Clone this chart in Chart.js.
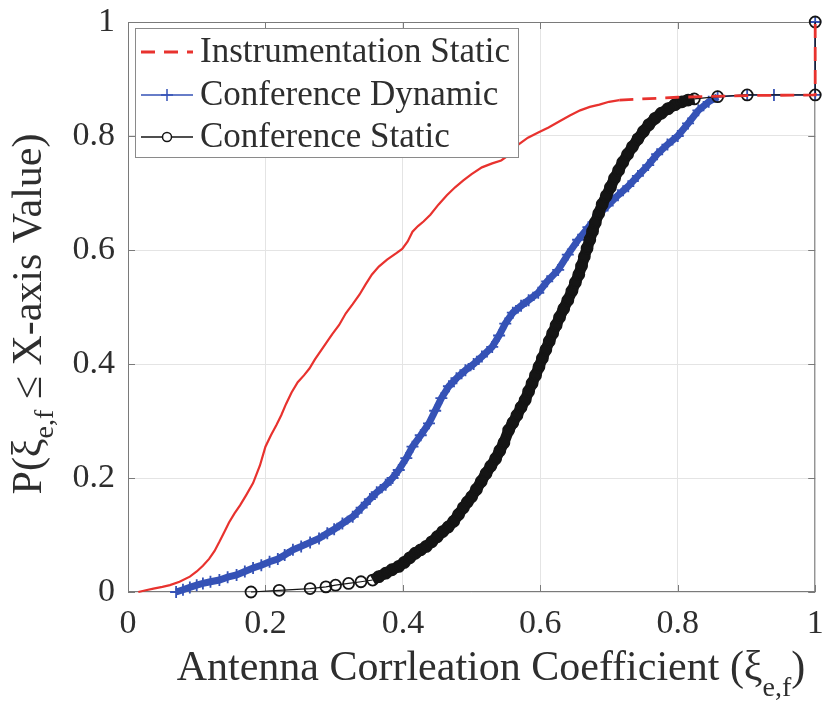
<!DOCTYPE html>
<html>
<head>
<meta charset="utf-8">
<script src="https://cdn.jsdelivr.net/npm/chart.js@4.4.0/dist/chart.umd.min.js"></script>
<style>
html,body{margin:0;padding:0;background:#ffffff;}
#wrap{width:823px;height:702px;position:relative;}
</style>
</head>
<body>
<div id="wrap"><canvas id="c" width="823" height="702"></canvas></div>
<script>
// ---------- data ----------
const seriesNames = ['Instrumentation Static', 'Conference Dynamic', 'Conference Static'];
const xTicks = [0, 0.2, 0.4, 0.6, 0.8, 1];
const yTicks = [0, 0.2, 0.4, 0.6, 0.8, 1];
const xTitleMain = 'Antenna Corrleation Coefficient (ξ';
const xTitleSub = 'e,f';
const xTitleEnd = ')';
const yTitleMain = 'P(ξ';
const yTitleSub = 'e,f';
const yTitleEnd = ' ≤ X-axis Value)';

const instrX = [0.015,0.026,0.037,0.050,0.061,0.075,0.090,0.100,0.109,0.118,0.126,0.133,0.140,0.147,0.155,0.163,0.172,0.182,0.192,0.200,0.208,0.216,0.223,0.230,0.238,0.247,0.256,0.264,0.272,0.280,0.288,0.297,0.307,0.317,0.327,0.337,0.346,0.355,0.365,0.377,0.390,0.399,0.407,0.414,0.422,0.430,0.440,0.452,0.464,0.476,0.488,0.500,0.515,0.530,0.543,0.556,0.568,0.582,0.597,0.612,0.628,0.643,0.658,0.672,0.686,0.700,0.715,0.800,0.900,1.000,1.000];
const instrY = [0.000,0.003,0.006,0.009,0.012,0.018,0.027,0.036,0.046,0.058,0.072,0.088,0.105,0.122,0.138,0.152,0.170,0.191,0.222,0.255,0.275,0.293,0.310,0.330,0.350,0.368,0.380,0.392,0.408,0.422,0.436,0.452,0.468,0.489,0.505,0.522,0.540,0.557,0.571,0.583,0.594,0.602,0.615,0.632,0.642,0.650,0.662,0.680,0.696,0.710,0.722,0.733,0.745,0.752,0.757,0.768,0.785,0.797,0.806,0.815,0.826,0.836,0.845,0.851,0.855,0.860,0.863,0.868,0.871,0.872,1.000];

const dynX = [0.070,0.080,0.090,0.100,0.109,0.120,0.133,0.145,0.158,0.170,0.182,0.194,0.206,0.218,0.228,0.240,0.252,0.265,0.278,0.290,0.300,0.312,0.327,0.340,0.352,0.362,0.375,0.385,0.394,0.405,0.414,0.426,0.438,0.447,0.456,0.467,0.478,0.491,0.503,0.515,0.530,0.540,0.549,0.560,0.572,0.583,0.597,0.610,0.626,0.640,0.655,0.670,0.684,0.698,0.713,0.728,0.742,0.757,0.770,0.785,0.800,0.815,0.830,0.845,0.858,0.901,0.940,1.000,1.000];
const dynY = [0.000,0.004,0.008,0.012,0.015,0.018,0.021,0.026,0.030,0.036,0.042,0.047,0.053,0.058,0.065,0.074,0.080,0.087,0.094,0.103,0.110,0.120,0.132,0.148,0.163,0.175,0.188,0.200,0.214,0.235,0.255,0.275,0.296,0.318,0.340,0.361,0.375,0.389,0.400,0.413,0.430,0.450,0.471,0.490,0.502,0.512,0.525,0.545,0.565,0.592,0.618,0.640,0.661,0.678,0.696,0.712,0.730,0.749,0.768,0.785,0.800,0.822,0.845,0.860,0.869,0.872,0.872,0.872,1.000];

const statX = [0.179,0.220,0.265,0.288,0.302,0.321,0.339,0.356,0.365,0.375,0.384,0.394,0.402,0.410,0.418,0.426,0.434,0.442,0.450,0.458,0.466,0.474,0.481,0.488,0.494,0.500,0.507,0.514,0.521,0.528,0.535,0.541,0.547,0.554,0.560,0.566,0.572,0.578,0.583,0.588,0.593,0.598,0.603,0.608,0.613,0.618,0.623,0.628,0.634,0.640,0.646,0.651,0.656,0.660,0.664,0.668,0.672,0.676,0.680,0.685,0.690,0.696,0.702,0.708,0.714,0.720,0.727,0.734,0.742,0.750,0.758,0.767,0.776,0.786,0.796,0.806,0.815,0.824,0.858,0.901,1.000,1.000];
const statY = [0.000,0.003,0.006,0.009,0.012,0.015,0.018,0.021,0.027,0.033,0.039,0.045,0.052,0.060,0.068,0.074,0.080,0.088,0.097,0.106,0.114,0.124,0.136,0.148,0.158,0.167,0.180,0.194,0.208,0.221,0.234,0.248,0.262,0.284,0.297,0.310,0.324,0.337,0.352,0.366,0.380,0.395,0.410,0.425,0.440,0.454,0.468,0.482,0.497,0.512,0.528,0.543,0.557,0.572,0.588,0.603,0.618,0.633,0.648,0.664,0.680,0.695,0.710,0.726,0.740,0.754,0.768,0.781,0.795,0.808,0.820,0.831,0.840,0.848,0.855,0.860,0.863,0.865,0.869,0.872,0.872,1.000];

// ---------- styling ----------
const FONT = "'Liberation Serif', 'Times New Roman', serif";
const TEXT = '#2e2e2e';
const RED = '#e8322e';
const BLUE = '#3552b6';
const BLACK = '#151515';

const pts = (xs, ys) => xs.map((x, i) => ({x: x, y: ys[i]}));
const segLen = ctx => Math.hypot(ctx.p1.x - ctx.p0.x, ctx.p1.y - ctx.p0.y);

const fmt = v => String(+Number(v).toFixed(1));

const decorPlugin = {
  id: 'decor',
  beforeDatasetsDraw(chart) {
    const {ctx, chartArea: a, scales} = chart;
    ctx.save();
    ctx.strokeStyle = '#7a7a7a';
    ctx.lineWidth = 1;
    ctx.strokeRect(a.left + 0.5, a.top + 0.5, a.right - a.left - 1, a.bottom - a.top - 1);
    const tl = 7;
    ctx.beginPath();
    xTicks.forEach(v => {
      const px = Math.round(scales.x.getPixelForValue(v)) + 0.5;
      ctx.moveTo(px, a.bottom); ctx.lineTo(px, a.bottom - tl);
      ctx.moveTo(px, a.top); ctx.lineTo(px, a.top + tl);
    });
    yTicks.forEach(v => {
      const py = Math.round(scales.y.getPixelForValue(v)) + 0.5;
      ctx.moveTo(a.left, py); ctx.lineTo(a.left + tl, py);
      ctx.moveTo(a.right, py); ctx.lineTo(a.right - tl, py);
    });
    ctx.stroke();
    ctx.restore();
  },
  afterDraw(chart) {
    const {ctx} = chart;
    ctx.save();
    // ---- axis titles with subscripts ----
    const mainF = '42px ' + FONT, subF = '28px ' + FONT;
    function drawTitle(main, sub, end, cx, baseY, subShift) {
      ctx.font = mainF; const w1 = ctx.measureText(main).width; const w3 = ctx.measureText(end).width;
      ctx.font = subF; const w2 = ctx.measureText(sub).width;
      let x = cx - (w1 + w2 + w3) / 2;
      ctx.fillStyle = TEXT; ctx.textBaseline = 'alphabetic'; ctx.textAlign = 'left';
      ctx.font = mainF; ctx.fillText(main, x, baseY); x += w1;
      ctx.font = subF; ctx.fillText(sub, x, baseY + subShift); x += w2;
      ctx.font = mainF; ctx.fillText(end, x, baseY);
    }
    drawTitle(xTitleMain, xTitleSub, xTitleEnd, 491, 680, 16);
    ctx.save();
    ctx.translate(41, 314);
    ctx.rotate(-Math.PI / 2);
    drawTitle(yTitleMain, yTitleSub, yTitleEnd, 0, 0, 12);
    ctx.restore();

    // ---- legend box ----
    const L = {x: 135.5, y: 28.5, w: 383, h: 129};
    ctx.fillStyle = '#ffffff';
    ctx.fillRect(L.x, L.y, L.w, L.h);
    ctx.strokeStyle = '#8a8a8a'; ctx.lineWidth = 1;
    ctx.strokeRect(L.x, L.y, L.w, L.h);
    const rows = [52, 95, 137];
    chart.data.datasets.forEach((ds, i) => {
      const y = rows[i];
      const x0 = 141, x1 = 193, xm = (x0 + x1) / 2;
      ctx.save();
      ctx.strokeStyle = ds.borderColor;
      ctx.lineWidth = i === 0 ? 2.8 : 1.5;
      ctx.setLineDash(i === 0 ? [14, 9] : []);
      ctx.beginPath(); ctx.moveTo(x0, y); ctx.lineTo(x1, y); ctx.stroke();
      ctx.setLineDash([]);
      if (ds.pointStyle === 'cross') {
        ctx.beginPath(); ctx.moveTo(xm - 6, y); ctx.lineTo(xm + 6, y); ctx.moveTo(xm, y - 6); ctx.lineTo(xm, y + 6); ctx.stroke();
      } else if (ds.pointStyle === 'circle' && ds.pointRadius > 0) {
        ctx.beginPath(); ctx.arc(xm, y, 4.5, 0, Math.PI * 2); ctx.fillStyle = '#fff'; ctx.fill(); ctx.stroke();
      }
      ctx.restore();
      ctx.fillStyle = TEXT; ctx.font = '35px ' + FONT; ctx.textBaseline = 'middle'; ctx.textAlign = 'left';
      ctx.fillText(ds.label, 200, y + 1);
    });
    ctx.restore();
  }
};

const tickFont = {family: FONT, size: 34};

new Chart(document.getElementById('c'), {
  type: 'line',
  data: {
    datasets: [
      {
        label: seriesNames[0], data: pts(instrX, instrY), order: 0,
        borderColor: RED, borderWidth: 2.2, pointRadius: 0, pointStyle: false, tension: 0,
        segment: { borderDash: ctx => segLen(ctx) > 30 ? [14, 9] : undefined, borderWidth: ctx => segLen(ctx) > 30 ? 2.8 : 2.2 },
        clip: false
      },
      {
        label: seriesNames[1], data: pts(dynX, dynY), order: 2,
        borderColor: BLUE, borderWidth: 1.5, tension: 0,
        pointStyle: 'cross', pointRadius: 6, pointBorderColor: BLUE, pointBorderWidth: 1.8, pointBackgroundColor: BLUE,
        segment: { borderWidth: ctx => (dynY[ctx.p1DataIndex] <= 0.87 && dynX[ctx.p1DataIndex] < 0.86) ? 7 : 1.5 },
        clip: false
      },
      {
        label: seriesNames[2], data: pts(statX, statY), order: 1,
        borderColor: BLACK, borderWidth: 1.2, tension: 0,
        pointStyle: 'circle', pointRadius: 5.5, pointBorderColor: BLACK, pointBorderWidth: 1.8, pointBackgroundColor: 'rgba(0,0,0,0)',
        segment: { borderWidth: ctx => (statY[ctx.p0DataIndex] >= 0.02 && statY[ctx.p1DataIndex] <= 0.866) ? 11 : 1.2 },
        clip: false
      }
    ]
  },
  options: {
    responsive: false,
    animation: false,
    devicePixelRatio: 1,
    layout: {padding: {top: 22, right: 5, left: 0, bottom: 0}},
    plugins: {legend: {display: false}, tooltip: {enabled: false}, title: {display: false}},
    scales: {
      x: {
        type: 'linear', min: 0, max: 1,
        afterBuildTicks: s => { s.ticks = xTicks.map(v => ({value: v})); },
        afterFit: s => { s.height = 110; s.paddingLeft = 0; s.paddingRight = 0; s.paddingTop = 0; s.paddingBottom = 0; },
        ticks: {font: tickFont, color: TEXT, padding: 12, maxRotation: 0, autoSkip: false, callback: v => fmt(v)},
        grid: {color: '#e4e4e4', lineWidth: 1, drawTicks: false},
        border: {display: false}
      },
      y: {
        type: 'linear', min: 0, max: 1,
        afterBuildTicks: s => { s.ticks = yTicks.map(v => ({value: v})); },
        afterFit: s => { s.width = 128; s.paddingLeft = 0; s.paddingRight = 0; s.paddingTop = 0; s.paddingBottom = 0; },
        ticks: {font: tickFont, color: TEXT, padding: 13, autoSkip: false, callback: v => fmt(v)},
        grid: {color: '#e4e4e4', lineWidth: 1, drawTicks: false},
        border: {display: false}
      }
    }
  },
  plugins: [decorPlugin]
});
</script>
</body>
</html>
